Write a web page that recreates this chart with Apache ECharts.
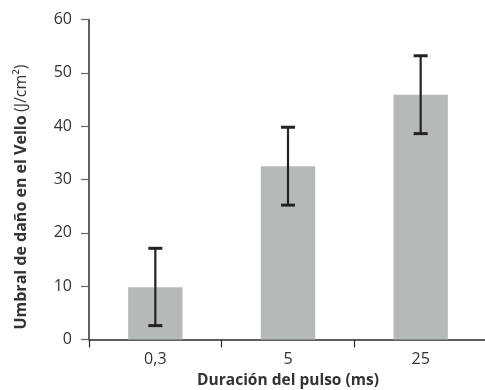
<!DOCTYPE html>
<html><head><meta charset="utf-8">
<script src="https://cdn.jsdelivr.net/npm/echarts@6/dist/echarts.min.js"></script>
<style>html,body{margin:0;padding:0;background:#fff}#c{width:485px;height:390px}</style>
</head><body><div id="c"></div>
<script>
var categories = ['0,3', '5', '25'];
var means = [9.8, 32.5, 45.9];
var errLow = [2.6, 25.2, 38.6];
var errHigh = [17.1, 39.8, 53.2];
var yTicks = [0, 10, 20, 30, 40, 50, 60];
var xTitle = 'Duración del pulso (ms)';
var yTitleBold = 'Umbral de daño en el Vello';
var yTitleUnit = '(J/cm²)';

var FONT = '"Open Sans", "Noto Sans", sans-serif';
var chart = echarts.init(document.getElementById('c'), null, {renderer: 'canvas'});
chart.setOption({
  animation: false,
  backgroundColor: '#fff',
  grid: {left: 89, top: 19.5, bottom: 50.5, right: -2, containLabel: false, outerBoundsMode: 'none'},
  xAxis: {
    type: 'category', data: categories,
    axisLine: {lineStyle: {color: '#2a2a2a', width: 1.5}},
    axisTick: {show: true, length: 8, alignWithLabel: false, lineStyle: {color: '#2a2a2a', width: 1.2}},
    axisLabel: {color: '#333', fontSize: 16, fontFamily: FONT, margin: 12},
    name: xTitle, nameLocation: 'middle', nameGap: 27,
    nameTextStyle: {color: '#333', fontSize: 15.5, fontWeight: 'bold', fontFamily: FONT}
  },
  yAxis: {
    type: 'value', min: yTicks[0], max: yTicks[yTicks.length - 1], interval: 10,
    axisLine: {show: true, lineStyle: {color: '#2a2a2a', width: 1.5}},
    axisTick: {show: true, inside: false, length: 8, lineStyle: {color: '#666', width: 1.2}},
    splitLine: {show: false},
    axisLabel: {color: '#333', fontSize: 16, fontFamily: FONT, margin: 17}
  },
  graphic: [{
    type: 'text', x: 21, y: 197, rotation: Math.PI / 2,
    style: {
      text: '{b|' + yTitleBold + '} {n|' + yTitleUnit + '}',
      align: 'center', verticalAlign: 'middle',
      rich: {
        b: {fontSize: 16, fontWeight: 'bold', fill: '#333', fontFamily: FONT},
        n: {fontSize: 16, fontWeight: 'normal', fill: '#333', fontFamily: FONT}
      }
    }
  }],
  series: [{
    type: 'bar', data: means, barWidth: '41%',
    itemStyle: {color: '#b6b9b9'}, z: 2
  }, {
    type: 'custom', z: 5,
    data: categories.map(function (c, i) { return [i, errLow[i], errHigh[i]]; }),
    renderItem: function (params, api) {
      var x = api.value(0);
      var lo = api.coord([x, api.value(1)]);
      var hi = api.coord([x, api.value(2)]);
      var hw = 7;
      var st = {stroke: '#222', lineWidth: 2.2};
      var cap = {stroke: '#222', lineWidth: 3};
      return {type: 'group', children: [
        {type: 'line', shape: {x1: hi[0], y1: hi[1], x2: lo[0], y2: lo[1]}, style: st},
        {type: 'line', shape: {x1: hi[0] - hw, y1: hi[1], x2: hi[0] + hw, y2: hi[1]}, style: cap},
        {type: 'line', shape: {x1: lo[0] - hw, y1: lo[1], x2: lo[0] + hw, y2: lo[1]}, style: cap}
      ]};
    }
  }]
});
</script></body></html>
